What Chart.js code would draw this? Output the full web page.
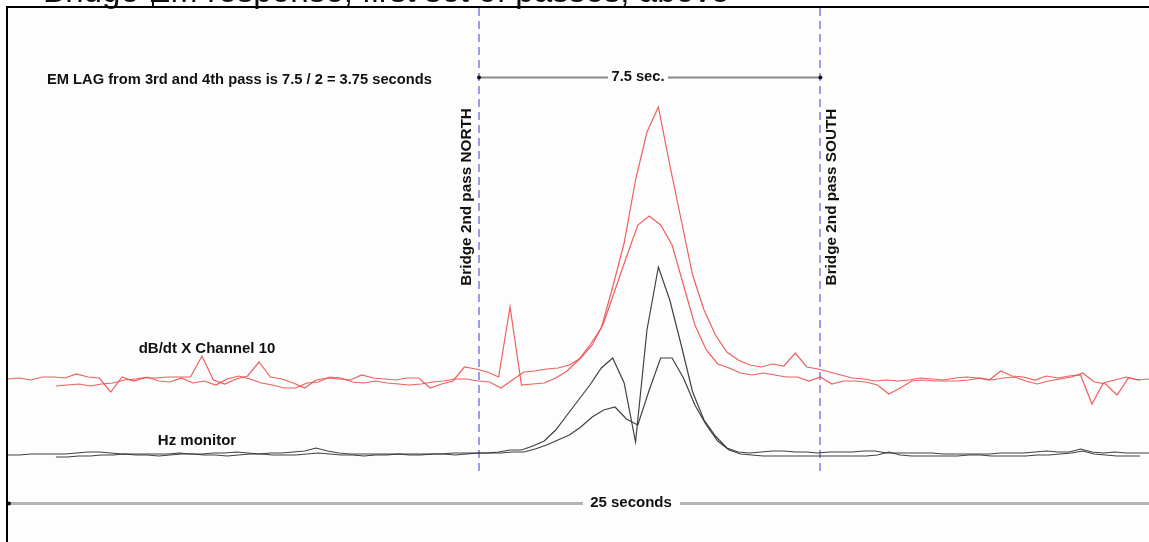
<!DOCTYPE html>
<html>
<head>
<meta charset="utf-8">
<script src="https://cdn.jsdelivr.net/npm/chart.js@4/dist/chart.umd.min.js"></script>
<style>
  html, body { margin: 0; padding: 0; background: #fff; overflow: hidden; }
  canvas { display: block; }
</style>
</head>
<body>
<canvas id="chart" width="1149" height="542"></canvas>
<script>
// sample spacing (seconds) and start time of each pass
const T_STEP = 0.25;
const START_PASS3 = 0;
const START_PASS4 = 1.05;

// dB/dt X channel 10, arbitrary units
const redPass3 = [1,2,0,3,3,2,6,3,2,-12,
  3,-1,2,2,3,3,3,24,0,-4,
  1,4,18,3,1,-3,-8,0,2,1,
  0,5,2,1,0,2,2,-8,-4,-1,
  13,11,8,3,73,-5,-4,-3,2,9,
  20,35,52,93,137,200,248,273,215,160,
  105,70,45,28,20,15,13,16,14,27,
  13,11,8,5,2,1,-1,0,-1,0,
  2,1,0,2,3,2,0,9,4,3,
  0,4,2,4,5,-24,-3,0,3,0,
  1];
const redPass4 = [-6,-5,-4,-6,-4,-3,0,1,3,-1,
  -2,2,-3,-1,-5,1,4,1,-3,-5,
  -8,-8,-3,-2,3,2,-2,-3,-1,-3,
  -4,-5,-4,-2,-1,1,1,-1,-2,-8,
  0,8,9,11,12,15,22,35,57,90,
  123,155,164,155,135,95,55,30,16,12,
  7,5,7,5,3,3,-1,3,-4,-1,
  -1,-2,-5,-14,-8,-1,0,-1,-1,-1,
  0,2,0,2,3,-1,-4,-1,1,3,
  7,-2,-4,-15,2,0];

// Hz monitor, arbitrary units
const hzPass3 = [0,0,1,1,1,1,2,3,3,2,
  1,1,1,1,1,2,1,1,2,2,
  3,2,1,2,2,3,4,7,4,2,
  1,1,1,1,1,1,1,1,1,2,
  2,2,2,3,5,5,9,14,25,40,
  55,70,87,97,72,13,125,188,155,110,
  63,35,19,7,3,2,3,4,4,3,
  3,2,3,3,3,4,4,2,2,2,
  2,2,1,1,1,1,1,2,2,2,
  3,4,3,3,6,3,2,3,2,2,
  2];
const hzPass4 = [-2,-2,-1,-1,0,0,1,0,0,-1,
  0,1,1,0,0,-1,0,1,1,0,
  0,0,1,2,1,0,0,-1,0,0,
  1,0,0,1,1,0,1,2,2,2,
  3,3,6,10,15,20,28,38,45,48,
  36,30,65,97,97,77,50,30,14,5,
  1,0,-1,-1,-1,-1,-1,-1,-1,-1,
  -1,-1,0,3,0,-1,-1,-1,-1,-1,
  0,0,-1,-1,-1,-1,0,0,1,2,
  4,1,0,-1,-1,-1];

// bridge passes (seconds)
const bridgeNorth = 10.32;
const bridgeSouth = 17.8;

function toPoints(vals, t0) {
  return vals.map((v, i) => ({ x: t0 + i * T_STEP, y: v }));
}

const RED = 'rgba(238,78,78,0.9)';
const BLK = 'rgba(45,45,45,0.9)';
const FAMILY = '"Liberation Sans", Arial, sans-serif';

function dotLine(ctx, x1, x2, y, gapL, gapR, color, w) {
  ctx.strokeStyle = color;
  ctx.lineWidth = w;
  ctx.beginPath();
  ctx.moveTo(x1, y); ctx.lineTo(gapL, y);
  ctx.moveTo(gapR, y); ctx.lineTo(x2, y);
  ctx.stroke();
}

const notes = {
  id: 'notes',
  beforeDraw(chart) {
    const ctx = chart.ctx;
    ctx.save();
    ctx.fillStyle = '#fff';
    ctx.fillRect(0, 0, chart.width, chart.height);
    ctx.fillStyle = '#fdfdfd';
    ctx.fillRect(8, 8, chart.width - 8, chart.height - 8);
    // clipped caption above the frame (only its lower edge shows)
    const cap = 'Bridge EM response, first set of passes, above';
    ctx.font = '26px ' + FAMILY;
    const w = ctx.measureText(cap).width;
    ctx.font = (26 * 687 / w).toFixed(1) + 'px ' + FAMILY;
    ctx.fillStyle = '#111';
    ctx.textBaseline = 'alphabetic';
    ctx.fillText(cap, 43, 1.5);
    ctx.fillRect(152, 0, 2, 6);
    // frame
    ctx.fillStyle = '#000';
    ctx.fillRect(6, 6, chart.width - 6, 2);
    ctx.fillRect(6, 6, 2, chart.height - 6);
    ctx.restore();
  },
  beforeDatasetsDraw(chart) {
    const ctx = chart.ctx;
    const xs = chart.scales.x;
    ctx.save();
    ctx.strokeStyle = 'rgba(130,130,235,0.8)';
    ctx.lineWidth = 2;
    ctx.setLineDash([8, 5]);
    [bridgeNorth, bridgeSouth].forEach(t => {
      const px = Math.round(xs.getPixelForValue(t));
      ctx.beginPath();
      ctx.moveTo(px, 8);
      ctx.lineTo(px, 475);
      ctx.stroke();
    });
    ctx.restore();
  },
  afterDatasetsDraw(chart) {
    const ctx = chart.ctx;
    const xs = chart.scales.x;
    const xn = xs.getPixelForValue(bridgeNorth);
    const xsouth = xs.getPixelForValue(bridgeSouth);
    ctx.save();
    ctx.fillStyle = '#111';
    ctx.textBaseline = 'middle';
    ctx.textAlign = 'left';
    ctx.font = 'bold 14.7px ' + FAMILY;
    ctx.fillText('EM LAG from 3rd and 4th pass is 7.5 / 2 = 3.75 seconds', 47, 80);

    // 7.5 sec span
    ctx.textAlign = 'center';
    ctx.fillText('7.5 sec.', 638, 77);
    dotLine(ctx, xn, xsouth, 77.5, 608, 668, '#8a8a8a', 2);
    ctx.fillStyle = '#111';
    [xn, xsouth].forEach(x => { ctx.beginPath(); ctx.arc(x, 77.5, 2, 0, Math.PI * 2); ctx.fill(); });

    // 25 seconds span
    ctx.font = 'bold 15px ' + FAMILY;
    const x0 = xs.getPixelForValue(0), x1 = xs.getPixelForValue(25);
    ctx.fillText('25 seconds', 631, 503);
    dotLine(ctx, x0, x1, 503.5, 583, 680, '#b4b4b4', 3);
    ctx.fillStyle = '#111';
    ctx.beginPath(); ctx.arc(x0 + 1, 503.5, 2, 0, Math.PI * 2); ctx.fill();

    // channel labels
    ctx.fillText('dB/dt X Channel 10', 207, 349);
    ctx.fillText('Hz monitor', 197, 441);

    // bridge labels
    ctx.font = 'bold 15.3px ' + FAMILY;
    [[xn - 12, 'Bridge 2nd pass NORTH'], [xsouth + 11, 'Bridge 2nd pass SOUTH']].forEach(([x, s]) => {
      ctx.save();
      ctx.translate(x, 197);
      ctx.rotate(-Math.PI / 2);
      ctx.fillText(s, 0, 0);
      ctx.restore();
    });
    ctx.restore();
  }
};

const lineStyle = { pointRadius: 0, borderWidth: 1.2, tension: 0, fill: false };

new Chart(document.getElementById('chart'), {
  type: 'line',
  data: {
    datasets: [
      { label: 'dB/dt pass 3', data: toPoints(redPass3, START_PASS3), borderColor: RED, yAxisID: 'yRed', ...lineStyle },
      { label: 'dB/dt pass 4', data: toPoints(redPass4, START_PASS4), borderColor: RED, yAxisID: 'yRed', ...lineStyle },
      { label: 'Hz pass 3', data: toPoints(hzPass3, START_PASS3), borderColor: BLK, yAxisID: 'yHz', ...lineStyle },
      { label: 'Hz pass 4', data: toPoints(hzPass4, START_PASS4), borderColor: BLK, yAxisID: 'yHz', ...lineStyle }
    ]
  },
  options: {
    responsive: false,
    animation: false,
    devicePixelRatio: 1,
    layout: { padding: { left: 8, right: 0, top: 0, bottom: 0 } },
    plugins: { legend: { display: false }, tooltip: { enabled: false } },
    scales: {
      x: { type: 'linear', min: 0, max: 25, display: false },
      yRed: { min: -162, max: 380, display: false },
      yHz: { min: -87, max: 455, display: false }
    }
  },
  plugins: [notes]
});
</script>
</body>
</html>
